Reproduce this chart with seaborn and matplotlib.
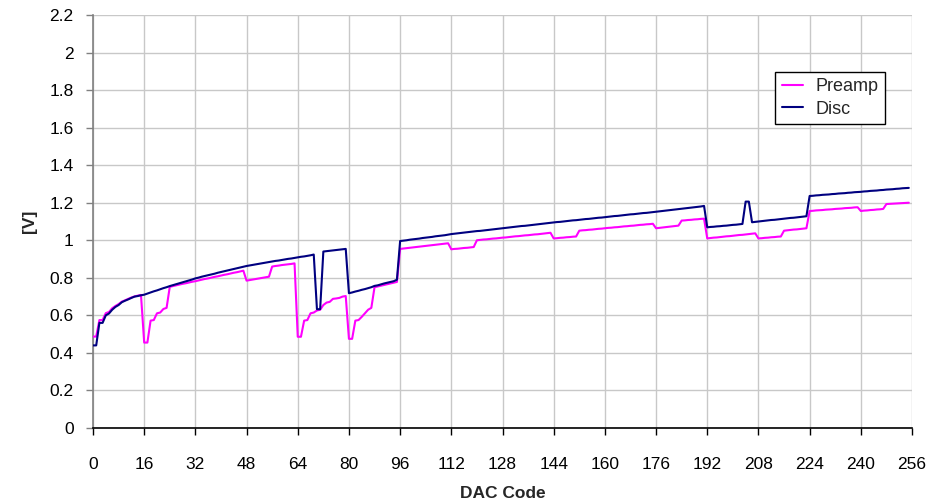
import matplotlib
matplotlib.use("Agg")
import matplotlib.pyplot as plt
import seaborn as sns
import pandas as pd
import numpy as np

dac_codes = list(range(256))

disc = [
    0.440, 0.440, 0.560, 0.560, 0.600, 0.610, 0.630, 0.645, 0.655, 0.670, 0.678, 0.685, 0.693, 0.700, 0.703, 0.707,
    0.710, 0.716, 0.722, 0.728, 0.733, 0.739, 0.745, 0.750, 0.756, 0.761, 0.766, 0.771, 0.776, 0.781, 0.786, 0.791,
    0.797, 0.801, 0.806, 0.810, 0.814, 0.818, 0.822, 0.827, 0.831, 0.835, 0.839, 0.843, 0.847, 0.851, 0.855, 0.859,
    0.863, 0.866, 0.869, 0.872, 0.875, 0.878, 0.881, 0.884, 0.887, 0.890, 0.892, 0.895, 0.898, 0.901, 0.903, 0.906,
    0.909, 0.912, 0.914, 0.917, 0.920, 0.924, 0.633, 0.633, 0.940, 0.942, 0.944, 0.946, 0.948, 0.950, 0.952, 0.954,
    0.718, 0.722, 0.727, 0.731, 0.736, 0.740, 0.745, 0.750, 0.757, 0.760, 0.765, 0.770, 0.774, 0.778, 0.782, 0.790,
    0.996, 0.998, 1.000, 1.003, 1.005, 1.007, 1.009, 1.012, 1.014, 1.016, 1.018, 1.021, 1.023, 1.025, 1.027, 1.030,
    1.033, 1.035, 1.037, 1.039, 1.041, 1.043, 1.045, 1.047, 1.049, 1.050, 1.052, 1.054, 1.056, 1.058, 1.060, 1.062,
    1.064, 1.066, 1.068, 1.070, 1.072, 1.074, 1.076, 1.077, 1.079, 1.081, 1.083, 1.085, 1.087, 1.089, 1.091, 1.093,
    1.095, 1.097, 1.098, 1.100, 1.102, 1.104, 1.106, 1.107, 1.109, 1.111, 1.113, 1.114, 1.116, 1.118, 1.120, 1.121,
    1.123, 1.125, 1.127, 1.129, 1.130, 1.132, 1.134, 1.136, 1.138, 1.139, 1.141, 1.143, 1.145, 1.146, 1.148, 1.150,
    1.152, 1.154, 1.156, 1.158, 1.160, 1.162, 1.164, 1.166, 1.168, 1.170, 1.172, 1.174, 1.176, 1.178, 1.180, 1.183,
    1.069, 1.071, 1.072, 1.074, 1.075, 1.077, 1.078, 1.080, 1.082, 1.083, 1.085, 1.087, 1.206, 1.206, 1.096, 1.098,
    1.100, 1.102, 1.104, 1.106, 1.108, 1.109, 1.111, 1.113, 1.115, 1.117, 1.119, 1.120, 1.122, 1.124, 1.126, 1.128,
    1.236, 1.237, 1.239, 1.240, 1.242, 1.243, 1.244, 1.246, 1.247, 1.249, 1.250, 1.251, 1.253, 1.254, 1.256, 1.257,
    1.258, 1.260, 1.261, 1.263, 1.264, 1.265, 1.267, 1.268, 1.270, 1.271, 1.272, 1.274, 1.275, 1.277, 1.278, 1.279,
]

preamp = [
    0.487, 0.487, 0.575, 0.575, 0.612, 0.618, 0.638, 0.650, 0.660, 0.673, 0.680, 0.688, 0.695, 0.701, 0.705, 0.709,
    0.455, 0.455, 0.572, 0.575, 0.611, 0.615, 0.634, 0.640, 0.752, 0.756, 0.760, 0.764, 0.768, 0.771, 0.775, 0.779,
    0.782, 0.786, 0.790, 0.794, 0.797, 0.801, 0.805, 0.808, 0.812, 0.816, 0.819, 0.823, 0.827, 0.830, 0.834, 0.838,
    0.785, 0.788, 0.791, 0.794, 0.797, 0.800, 0.803, 0.806, 0.860, 0.863, 0.865, 0.868, 0.870, 0.872, 0.874, 0.877,
    0.486, 0.486, 0.572, 0.575, 0.611, 0.615, 0.626, 0.630, 0.655, 0.668, 0.672, 0.688, 0.690, 0.693, 0.700, 0.703,
    0.475, 0.475, 0.572, 0.575, 0.592, 0.611, 0.630, 0.640, 0.750, 0.754, 0.758, 0.762, 0.766, 0.770, 0.774, 0.778,
    0.954, 0.956, 0.958, 0.960, 0.962, 0.964, 0.966, 0.968, 0.970, 0.972, 0.974, 0.976, 0.978, 0.980, 0.982, 0.984,
    0.952, 0.954, 0.955, 0.957, 0.959, 0.960, 0.962, 0.964, 1.000, 1.002, 1.004, 1.005, 1.007, 1.009, 1.010, 1.012,
    1.014, 1.015, 1.017, 1.019, 1.021, 1.022, 1.024, 1.026, 1.027, 1.029, 1.031, 1.032, 1.034, 1.036, 1.038, 1.040,
    1.010, 1.011, 1.013, 1.014, 1.016, 1.017, 1.019, 1.020, 1.051, 1.053, 1.054, 1.056, 1.057, 1.059, 1.061, 1.062,
    1.064, 1.066, 1.067, 1.069, 1.070, 1.072, 1.074, 1.075, 1.077, 1.078, 1.080, 1.082, 1.083, 1.085, 1.086, 1.088,
    1.064, 1.066, 1.068, 1.070, 1.072, 1.074, 1.076, 1.078, 1.105, 1.106, 1.108, 1.109, 1.111, 1.112, 1.114, 1.115,
    1.010, 1.012, 1.014, 1.015, 1.017, 1.019, 1.021, 1.022, 1.024, 1.026, 1.028, 1.029, 1.031, 1.033, 1.035, 1.037,
    1.010, 1.011, 1.013, 1.014, 1.016, 1.017, 1.019, 1.020, 1.051, 1.053, 1.055, 1.057, 1.058, 1.060, 1.062, 1.064,
    1.156, 1.157, 1.159, 1.160, 1.161, 1.163, 1.164, 1.165, 1.167, 1.168, 1.169, 1.171, 1.172, 1.173, 1.175, 1.176,
    1.156, 1.158, 1.159, 1.161, 1.162, 1.164, 1.165, 1.167, 1.193, 1.194, 1.195, 1.196, 1.197, 1.198, 1.199, 1.200,
]

series_names = ["Preamp", "Disc"]
series_colors = ["#FF00FF", "#000080"]
x_ticks = list(range(0, 257, 16))
y_ticks = [0, 0.2, 0.4, 0.6, 0.8, 1, 1.2, 1.4, 1.6, 1.8, 2, 2.2]
y_tick_labels = ["0", "0.2", "0.4", "0.6", "0.8", "1", "1.2", "1.4", "1.6", "1.8", "2", "2.2"]

df = pd.concat([
    pd.DataFrame({"DAC Code": dac_codes, "V": preamp, "Series": "Preamp"}),
    pd.DataFrame({"DAC Code": dac_codes, "V": disc, "Series": "Disc"}),
], ignore_index=True)

sns.set_theme(style="white")
plt.rcParams["font.family"] = ["Liberation Sans", "DejaVu Sans"]

fig = plt.figure(figsize=(9.48, 5.03), dpi=100)
ax = fig.add_axes([93 / 948, 1 - 428 / 503, (912 - 93) / 948, (428 - 15) / 503])

sns.lineplot(data=df, x="DAC Code", y="V", hue="Series", hue_order=series_names,
             palette=dict(zip(series_names, series_colors)), linewidth=1.5, ax=ax,
             legend=True, zorder=3)

ax.set_xlim(0, 256)
ax.set_ylim(0, 2.2)
ax.set_xticks(x_ticks)
ax.set_xticklabels([str(t) for t in x_ticks], fontsize=12.5)
ax.set_yticks(y_ticks)
ax.set_yticklabels(y_tick_labels, fontsize=12.5)
ax.grid(True, color="#c8c8c8", linewidth=1.0, zorder=0)
ax.set_axisbelow(True)

for s in ["top", "right"]:
    ax.spines[s].set_visible(False)
ax.spines["left"].set_color("#808080")
ax.spines["left"].set_linewidth(1.2)
ax.spines["bottom"].set_color("black")
ax.spines["bottom"].set_linewidth(1.2)

ax.tick_params(axis="both", which="major", direction="out", length=5, width=1.0,
               colors="black", bottom=True, left=True)
ax.tick_params(axis="x", pad=16)
ax.tick_params(axis="y", pad=9, colors="#808080", labelcolor="black")

ax.set_xlabel("DAC Code", fontsize=12.5, fontweight="bold", labelpad=10)
ax.set_ylabel("[V]", fontsize=12.5, fontweight="bold", labelpad=9)

handles, labels = ax.get_legend_handles_labels()
leg = ax.legend(handles, labels, loc="upper left", bbox_to_anchor=(0.833, 0.862),
                borderaxespad=0, frameon=True, fancybox=False, edgecolor="black",
                framealpha=1, fontsize=13, handlelength=1.2, handletextpad=0.7,
                borderpad=0.35, labelspacing=0.3)
leg.get_frame().set_linewidth(1.0)

fig.savefig("out.png", dpi=100, facecolor="white")
